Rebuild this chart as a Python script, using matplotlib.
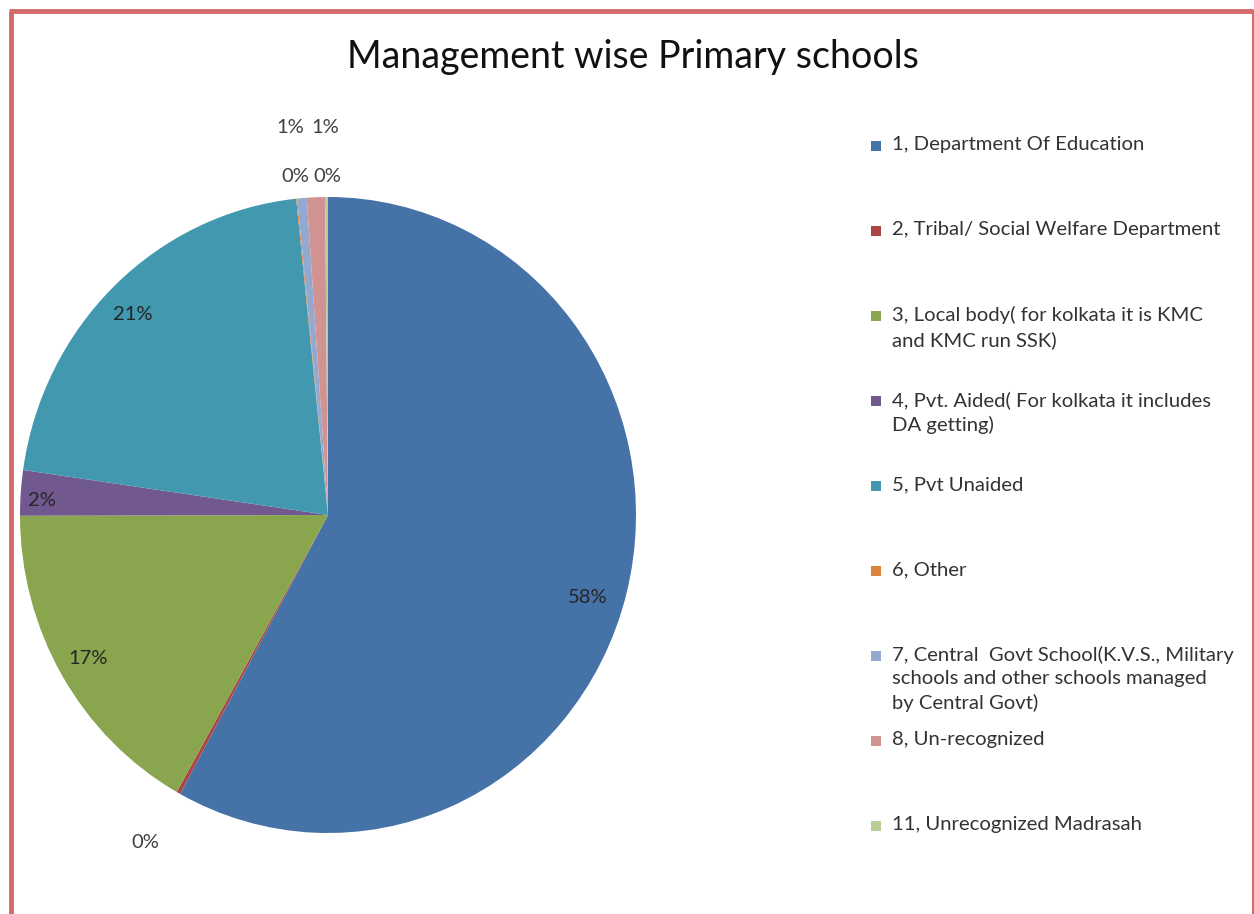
import matplotlib
matplotlib.use("Agg")
import matplotlib.pyplot as plt
from matplotlib.lines import Line2D
from matplotlib.patches import Rectangle

plt.rcParams['font.family'] = ['Lato', 'DejaVu Sans']

# data (percent of primary schools)
labels = ["1, Department Of Education",
          "2, Tribal/ Social Welfare Department",
          "3, Local body( for kolkata it is KMC\nand KMC run SSK)",
          "4, Pvt. Aided( For kolkata it includes\nDA getting)",
          "5, Pvt Unaided",
          "6, Other",
          "7, Central  Govt School(K.V.S., Military\nschools and other schools managed\nby Central Govt)",
          "8, Un-recognized",
          "11, Unrecognized Madrasah"]
values = [58.0, 0.2, 16.8, 2.3, 21.1, 0.05, 0.5, 0.95, 0.15]
pct_text = ["58%", "0%", "17%", "2%", "21%", "0%", "1%", "1%", "0%"]
colors = ["#4572A7", "#AA4643", "#89A54E", "#71588F", "#4198AF",
          "#DB843D", "#93A9CF", "#D19392", "#B9CD96"]

W, H = 1254, 914
fig = plt.figure(figsize=(W / 100, H / 100), dpi=100)

# pie axes: centre (328,515) px, radii 308 x 318 px (slightly stretched like the source)
cx, cy, rx, ry = 328, 515, 308, 318
ax = fig.add_axes([(cx - rx) / W, (H - cy - ry) / H, 2 * rx / W, 2 * ry / H])
wedges, _ = ax.pie(values, colors=colors, startangle=90, counterclock=False,
                   wedgeprops=dict(linewidth=0))
ax.set_xlim(-1, 1)
ax.set_ylim(-1, 1)
ax.set_aspect('auto')
ax.axis('off')

# percentage labels (Excel-like placement)
label_pos = [(0.844, -0.261), (-0.594, -1.031), (-0.779, -0.450), (-0.929, 0.047),
             (-0.633, 0.629), (-0.107, 1.063), (-0.123, 1.217), (-0.010, 1.217),
             (-0.003, 1.063)]
for i, (t, (x, y)) in enumerate(zip(pct_text, label_pos)):
    inside = i in (0, 2, 3, 4)
    ax.text(x, y, t, ha='center', va='center', fontsize=14.5,
            color='#262626' if inside else '#404040', clip_on=False)

fig.text(633 / W, 1 - 57 / H, "Management wise Primary schools",
         ha='center', va='center', fontsize=27, color='#111111')

# legend drawn by hand: first lines evenly spaced
y0, step = 146, 85
for i, (lab, c) in enumerate(zip(labels, colors)):
    y = y0 + step * i
    fig.patches.append(Rectangle(((876 - 5) / W, 1 - (y + 5) / H), 10 / W, 10 / H,
                                 transform=fig.transFigure, facecolor=c,
                                 edgecolor='none'))
    fig.text(892 / W, 1 - (y - 10) / H, lab, ha='left', va='top', fontsize=14.6,
             color='#333333', linespacing=1.45)

# outer red frame
fc = '#D46A6A'
fig.add_artist(Line2D([10.5 / W, 10.5 / W], [0, 1 - 11 / H], color=fc, lw=3.5,
                      transform=fig.transFigure, solid_capstyle='butt'))
fig.add_artist(Line2D([9 / W, 1252.5 / W], [1 - 11 / H, 1 - 11 / H], color=fc, lw=3.5,
                      transform=fig.transFigure, solid_capstyle='butt'))
fig.add_artist(Line2D([1252.5 / W, 1252.5 / W], [0, 1 - 11 / H], color=fc, lw=1.5,
                      transform=fig.transFigure))

fig.savefig("out.png", dpi=100)
